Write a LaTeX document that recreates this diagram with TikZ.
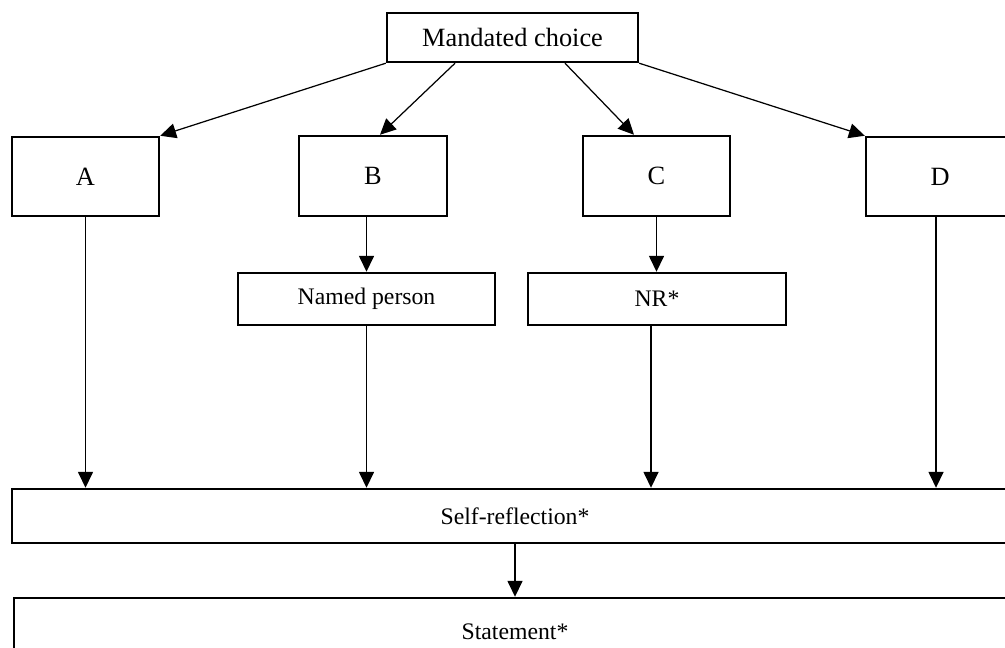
\documentclass[tikz,border=0pt]{standalone}
\usepackage{fontspec}
\setmainfont{Liberation Serif}
\usepackage{tikz}
\usetikzlibrary{arrows.meta,positioning,calc}
\tikzset{>={Triangle[length=9pt,width=8.5pt]}}
\tikzset{box/.style={draw,line width=1.4pt,inner sep=0pt,font=\fontsize{13.5}{16}\selectfont},
	big/.style={font=\fontsize{15}{18}\selectfont},
	link/.style={->,line width=0.7pt}}

\begin{document}
\begin{tikzpicture}[x=0.2mm,y=-0.2mm]
	\useasboundingbox (0,0) rectangle (1005,648);
	%Top
	\node[box,big,minimum width=5.02cm,minimum height=0.98cm] (M) at (512.5,37.5) {Mandated choice};
	%Options
	\node[box,big,minimum width=2.94cm,minimum height=1.58cm] (A) at (85.5,176.5) {A};
	\node[box,big,minimum width=2.96cm,minimum height=1.6cm] (B) at (373,176) {B};
	\node[box,big,minimum width=2.94cm,minimum height=1.6cm] (C) at (656.5,176) {C};
	\node[box,big,minimum width=2.96cm,minimum height=1.58cm] (D) at (940,176.5) {D};
	%Second row
	\node[box,minimum width=5.14cm,minimum height=1.04cm] (NP) at (366.5,299) {Named person};
	\node[box,minimum width=5.16cm,minimum height=1.04cm] (NR) at (657,299) {NR*};
	%Bottom
	\node[box,minimum width=20.12cm,minimum height=1.08cm] (SR) at (515,516) {Self-reflection*};
	\node[box,minimum width=20.04cm,minimum height=1.36cm] (ST) at (515,632) {Statement*};
	%Arrows
	\draw[link] (M.south west) -- (A.north east);
	\draw[link] ([xshift=-1.15cm]M.south) -- ([xshift=0.14cm]B.north);
	\draw[link] ([xshift=1.05cm]M.south) -- ([xshift=-0.45cm]C.north);
	\draw[link] (M.south east) -- (D.north west);
	\draw[link] (A.south) -- (A.south |- SR.north);
	\draw[link] (NP.north |- B.south) -- (NP.north);
	\draw[link] (NP.south) -- (NP.south |- SR.north);
	\draw[link] (C.south) -- (C.south |- NR.north);
	\draw[link] ([xshift=-0.12cm]NR.south) -- ([xshift=-0.12cm]NR.south |- SR.north);
	\draw[link] ([xshift=-0.08cm]D.south) -- ([xshift=-0.08cm]D.south |- SR.north);
	\draw[link] (SR.south) -- (ST.north);
\end{tikzpicture}
\end{document}
